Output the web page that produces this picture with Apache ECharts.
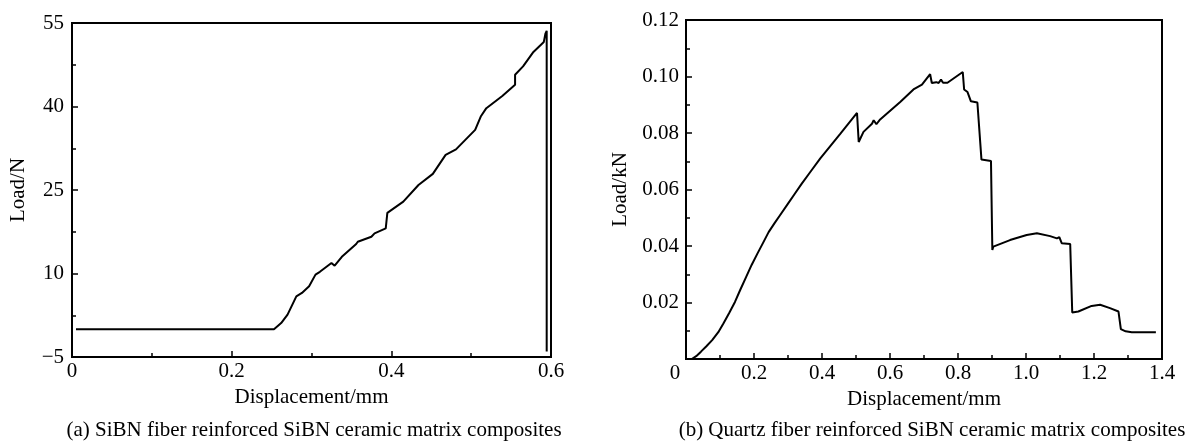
<!DOCTYPE html>
<html>
<head>
<meta charset="utf-8">
<script src="https://cdn.jsdelivr.net/npm/echarts@6/dist/echarts.min.js"></script>
<style>
    html, body { margin: 0; padding: 0; background: #fff; }
    #chart { width: 1188px; height: 441px; }
</style>
</head>
<body>
<div id="chart"></div>
<script>
    // (a) SiBN fiber reinforced SiBN - displacement (mm) / load (N)
    var dispA = [0.005, 0.253, 0.262, 0.270, 0.281, 0.288, 0.297, 0.305, 0.3105, 0.325, 0.329, 0.338,
        0.356, 0.358, 0.375, 0.379, 0.393, 0.395, 0.415, 0.434, 0.452, 0.468, 0.481, 0.505, 0.512,
        0.519, 0.539, 0.555, 0.555, 0.565, 0.578, 0.591, 0.593, 0.5946, 0.5946];
    var loadA = [0, 0, 1.1, 2.6, 5.9, 6.5, 7.7, 9.8, 10.3, 11.9, 11.4, 13.0,
        15.3, 15.7, 16.6, 17.2, 18.1, 20.9, 22.9, 25.9, 27.9, 31.3, 32.3, 35.8, 38.2,
        39.7, 41.9, 43.9, 45.7, 47.2, 49.8, 51.6, 53.1, 53.6, -4.0];

    // (b) quartz fiber reinforced SiBN - displacement (mm) / load (kN)
    var dispB = [0.017, 0.030, 0.044, 0.060, 0.077, 0.095, 0.110, 0.127, 0.144, 0.160, 0.177, 0.193,
        0.210, 0.227, 0.243, 0.260, 0.276, 0.300, 0.320, 0.340, 0.365, 0.395,
        0.453, 0.503, 0.508, 0.522, 0.547, 0.552, 0.560, 0.571, 0.630, 0.669, 0.694, 0.718, 0.723,
        0.736, 0.743, 0.750, 0.756, 0.769, 0.814, 0.818, 0.828, 0.838, 0.857, 0.869, 0.897, 0.901,
        0.904, 0.953, 1.002, 1.032, 1.071, 1.091, 1.098, 1.105, 1.130, 1.136, 1.154, 1.193, 1.218,
        1.247, 1.272, 1.279, 1.293, 1.311, 1.382];
    var loadB = [0, 0.0010, 0.0026, 0.0045, 0.0067, 0.0095, 0.0126, 0.0163, 0.0202, 0.0246, 0.0291, 0.0333,
        0.0373, 0.0412, 0.0449, 0.0480, 0.0508, 0.0550, 0.0585, 0.0620, 0.0661, 0.0710,
        0.0796, 0.0871, 0.0768, 0.0804, 0.0833, 0.0845, 0.0831, 0.0848, 0.0910, 0.0954, 0.0971, 0.1008, 0.0977,
        0.0980, 0.0977, 0.0989, 0.0978, 0.0978, 0.1016, 0.0954, 0.0945, 0.0912, 0.0908, 0.0706, 0.0701, 0.0386,
        0.0398, 0.0421, 0.0439, 0.0445, 0.0435, 0.0427, 0.0431, 0.0410, 0.0407, 0.0165, 0.0168, 0.0188, 0.0192,
        0.0180, 0.0168, 0.0106, 0.0098, 0.0095, 0.0095];

    var captions = ['(a) SiBN fiber reinforced SiBN ceramic matrix composites',
        '(b) Quartz fiber reinforced SiBN ceramic matrix composites'];

    var font = "'Liberation Serif', 'Times New Roman', serif";

    function pairs(xs, ys) {
        return xs.map(function (x, i) { return [x, ys[i]]; });
    }

    function fmtX(v) {
        return v === 0 ? '0' : v.toFixed(1);
    }

    function axisBase() {
        return {
            type: 'value',
            axisLine: { show: true, onZero: false, lineStyle: { color: '#000', width: 2 } },
            axisTick: { show: true, inside: true, length: 6, lineStyle: { color: '#000', width: 1.5 } },
            minorTick: { show: true, splitNumber: 2, length: 4, lineStyle: { color: '#000', width: 1.5 } },
            splitLine: { show: false },
            axisLabel: { color: '#000', fontSize: 21, fontFamily: font },
            nameLocation: 'middle',
            nameTextStyle: { color: '#000', fontSize: 21, fontFamily: font }
        };
    }

    var xA = Object.assign(axisBase(), {
        gridIndex: 0, min: 0, max: 0.6, interval: 0.2, name: 'Displacement/mm', nameGap: 22
    });
    xA.axisLabel = Object.assign({}, xA.axisLabel, { margin: 4, formatter: fmtX });

    var yA = Object.assign(axisBase(), {
        gridIndex: 0, min: -5, max: 55, interval: 15, name: 'Load/N', nameGap: 43
    });
    yA.axisLabel = Object.assign({}, yA.axisLabel, {
        margin: 8,
        formatter: function (v) { return v < 0 ? '\u2212' + Math.abs(v) : String(v); }
    });

    var xB = Object.assign(axisBase(), {
        gridIndex: 1, min: 0, max: 1.4, interval: 0.2, name: 'Displacement/mm', nameGap: 22
    });
    xB.axisLabel = Object.assign({}, xB.axisLabel, {
        margin: 4,
        formatter: function (v) { return v === 0 ? '{z|0}' : fmtX(v); },
        rich: { z: { fontSize: 21, fontFamily: font, color: '#000', padding: [0, 22, 0, 0] } }
    });

    var yB = Object.assign(axisBase(), {
        gridIndex: 1, min: 0, max: 0.12, interval: 0.02, name: 'Load/kN', nameGap: 55
    });
    yB.axisLabel = Object.assign({}, yB.axisLabel, {
        margin: 7,
        formatter: function (v) { return v === 0 ? '' : v.toFixed(2); }
    });

    var chart = echarts.init(document.getElementById('chart'));
    chart.setOption({
        backgroundColor: '#fff',
        animation: false,
        grid: [
            { left: 72, top: 23, width: 479, height: 334, show: true, borderColor: '#000', borderWidth: 2 },
            { left: 686, top: 20, width: 476, height: 339, show: true, borderColor: '#000', borderWidth: 2 }
        ],
        xAxis: [xA, xB],
        yAxis: [yA, yB],
        graphic: [
            { type: 'text', x: 314, y: 430, style: { text: captions[0], fill: '#000', font: '21px ' + font, textAlign: 'center', textVerticalAlign: 'middle' } },
            { type: 'text', x: 932, y: 430, style: { text: captions[1], fill: '#000', font: '21px ' + font, textAlign: 'center', textVerticalAlign: 'middle' } }
        ],
        series: [
            {
                type: 'line', xAxisIndex: 0, yAxisIndex: 0, data: pairs(dispA, loadA),
                showSymbol: false, lineStyle: { color: '#000', width: 2 }
            },
            {
                type: 'line', xAxisIndex: 1, yAxisIndex: 1, data: pairs(dispB, loadB),
                showSymbol: false, lineStyle: { color: '#000', width: 2 }
            }
        ]
    });
</script>
</body>
</html>
